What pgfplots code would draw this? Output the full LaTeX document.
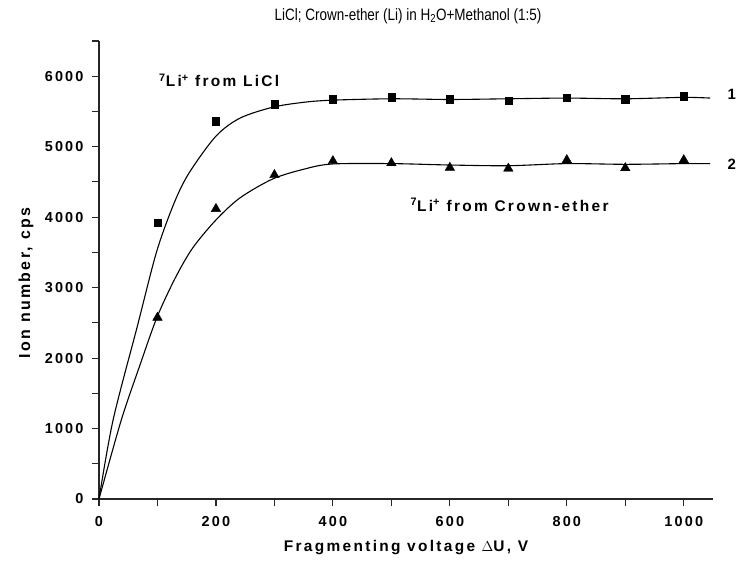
\documentclass[border=0pt]{standalone}
\usepackage{pgfplots}
\pgfplotsset{compat=1.18}
\usepackage{fontspec}
\setmainfont{Liberation Sans}
\newfontfamily\spaced[LetterSpace=15]{Liberation Sans}
\begin{document}
\begin{tikzpicture}[x=1bp,y=1bp]
\useasboundingbox (-99bp,-68bp) rectangle (639bp,499bp);
\begin{axis}[
  at={(0,0)}, anchor=south west,
  scale only axis, width=614bp, height=458bp,
  xmin=0, xmax=1050, ymin=0, ymax=6500,
  axis lines=left,
  axis line style={-, line width=1.3bp, black!85},
  xtick={0,200,...,1000}, minor xtick={100,300,...,900},
  ytick={0,1000,...,6000}, minor ytick={500,1500,...,6500},
  tick style={black!85, line width=1.1bp},
  major tick length=7bp, minor tick length=7bp,
  tick align=outside,
  ticklabel style={font=\spaced\bfseries\fontsize{14.5}{16}\selectfont},
  /pgf/number format/assume math mode=true,
  /pgf/number format/1000 sep={},
  xticklabel style={yshift=-7bp},
  yticklabel style={xshift=-5bp},
  clip=false,
]
\addplot[black, line width=1.1bp, smooth, tension=0.5] coordinates {
(0,0)(24,1118)(65,2434)(99,3523)(130,4231)(155,4640)(200,5150)(241,5405)(297,5560)(350,5630)(398,5660)(500,5680)(600,5670)(700,5680)(800,5690)(900,5680)(1000,5700)(1045,5690)};
\addplot[black, line width=1.1bp, smooth, tension=0.5] coordinates {
(0,0)(38,1118)(70,1900)(99,2575)(130,3130)(160,3560)(200,3960)(241,4273)(297,4542)(350,4680)(398,4754)(500,4760)(600,4740)(700,4730)(800,4760)(900,4750)(1000,4760)(1045,4760)};
\addplot[only marks, mark=square*, mark size=3.6bp, black] coordinates {
(100,3920)(200,5363)(300,5604)(400,5674)(500,5703)(600,5674)(700,5650)(800,5693)(900,5674)(1000,5717)};
\addplot[only marks, mark=triangle*, mark size=5.5bp, black] coordinates {
(100,2575)(200,4118)(300,4599)(400,4797)(500,4768)(600,4702)(700,4690)(800,4811)(900,4697)(1000,4811)};
\node[anchor=west, font=\spaced\bfseries\fontsize{15.5}{17}\selectfont] at (axis cs:97,5943) {\textsuperscript{7}Li\textsuperscript{+} from LiCl};
\node[anchor=west, font=\spaced\bfseries\fontsize{15.5}{17}\selectfont] at (axis cs:527,4174) {\textsuperscript{7}Li\textsuperscript{+} from Crown-ether};
\node[font=\bfseries\fontsize{15}{17}\selectfont] at (axis cs:1082,5745) {1};
\node[font=\bfseries\fontsize{15}{17}\selectfont] at (axis cs:1082,4754) {2};
\end{axis}
\node[font=\fontsize{16.5}{18}\selectfont] at (309bp,483bp) {\scalebox{0.82}[1]{LiCl; Crown-ether (Li) in H\textsubscript{2}O+Methanol (1:5)}};
\node[font=\spaced\bfseries\fontsize{15.5}{17}\selectfont] at (307bp,-49bp) {Fragmenting voltage \(\Delta\)U, V};
\node[rotate=90, font=\spaced\bfseries\fontsize{16}{18}\selectfont] at (-73bp,216bp) {Ion number, cps};
\end{tikzpicture}
\end{document}
